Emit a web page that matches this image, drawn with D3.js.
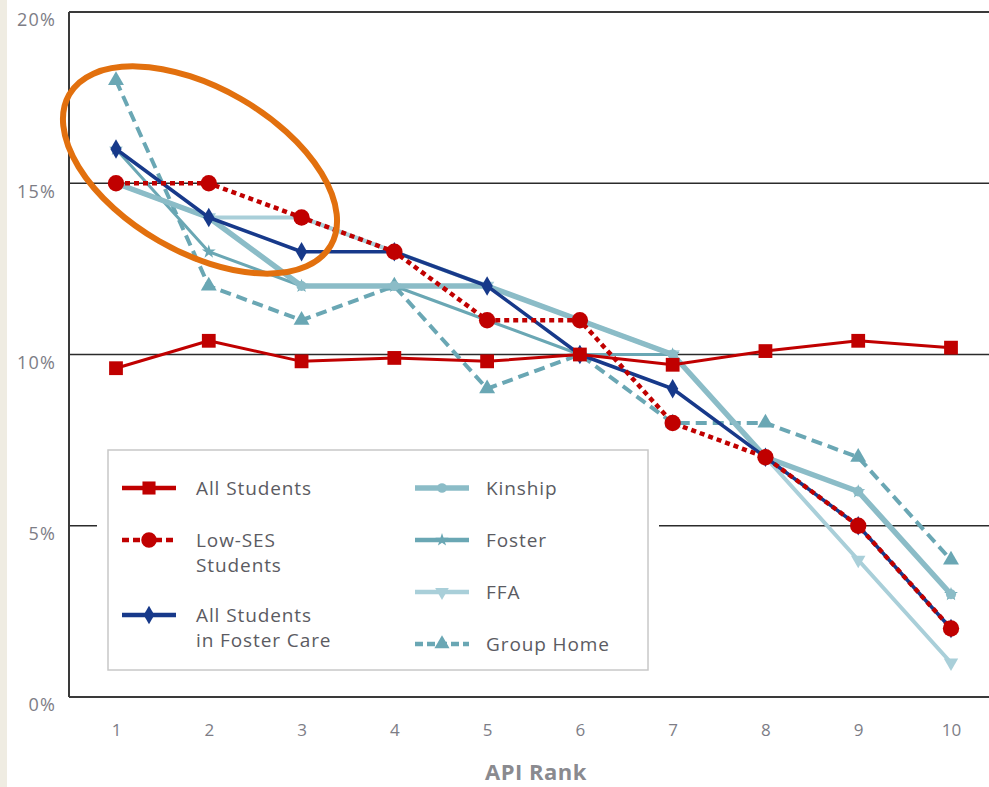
<!DOCTYPE html>
<html>
<head>
<meta charset="utf-8">
<script src="https://cdn.jsdelivr.net/npm/d3@7"></script>
<style>
  html, body { margin: 0; padding: 0; background: #ffffff; }
  svg { display: block; }
</style>
</head>
<body>
<svg id="chart" width="989" height="787"></svg>
<script>
// API rank deciles on the x axis
const ranks = [1, 2, 3, 4, 5, 6, 7, 8, 9, 10];
const yTicks = [0, 5, 10, 15, 20];

// Percent of students in each API rank decile
const allStudents     = [9.6, 10.4, 9.8, 9.9, 9.8, 10.0, 9.7, 10.1, 10.4, 10.2];
const lowSES          = [15, 15, 14, 13, 11, 11, 8, 7, 5, 2];
const allFosterCare   = [16, 14, 13, 13, 12, 10, 9, 7, 5, 2];
const kinship         = [15, 14, 12, 12, 12, 11, 10, 7, 6, 3];
const foster          = [16, 13, 12, 12, 11, 10, 10, 7, 6, 3];
const ffa             = [15, 14, 14, 13, 12, 11, 10, 7, 4, 1];
const groupHome       = [18, 12, 11, 12, 9, 10, 8, 8, 7, 4];

const seriesNames = ["All Students", "Low-SES\nStudents", "All Students\nin Foster Care",
                     "Kinship", "Foster", "FFA", "Group Home"];

const RED = "#c00000", NAVY = "#17398a", TEAL = "#6aa7b4", TEAL_MID = "#8bbcc7", TEAL_LIGHT = "#a9cfd9";

const series = [
  { name: seriesNames[6], values: groupHome, color: TEAL, width: 4, dash: "11,6", sym: d3.symbolTriangle, size: 110, rot: 0 },
  { name: seriesNames[5], values: ffa, color: TEAL_LIGHT, width: 4, dash: null, sym: d3.symbolTriangle, size: 90, rot: 180 },
  { name: seriesNames[4], values: foster, color: TEAL, width: 3, dash: null, sym: d3.symbolStar, size: 60, rot: 0 },
  { name: seriesNames[3], values: kinship, color: TEAL_MID, width: 5.5, dash: null, sym: d3.symbolCircle, size: 80, rot: 0 },
  { name: seriesNames[2], values: allFosterCare, color: NAVY, width: 3.5, dash: null, sym: d3.symbolDiamond, size: 110, rot: 0 },
  { name: seriesNames[0], values: allStudents, color: RED, width: 3, dash: null, sym: d3.symbolSquare, size: 190, rot: 0 },
  { name: seriesNames[1], values: lowSES, color: RED, width: 4.5, dash: "5,4", sym: d3.symbolCircle, size: 210, rot: 0 }
];

const svg = d3.select("#chart");
const FONT = "'Open Sans', 'Noto Sans', sans-serif";

// left page strip
svg.append("rect").attr("x", 0).attr("y", 0).attr("width", 7).attr("height", 787).attr("fill", "#efece2");

const x = d3.scaleLinear().domain([1, 10]).range([116, 951]);
const y = d3.scaleLinear().domain([0, 20]).range([697, 12]);
const plotLeft = 69, plotRight = 989;

// gridlines and frame
const grid = svg.append("g");
[5, 10, 15].forEach(v => {
  grid.append("line").attr("x1", plotLeft).attr("x2", plotRight)
    .attr("y1", y(v)).attr("y2", y(v)).attr("stroke", "#2b2b2b").attr("stroke-width", 1.5);
});
grid.append("line").attr("x1", plotLeft).attr("x2", plotRight)
  .attr("y1", y(20)).attr("y2", y(20)).attr("stroke", "#3a3a3a").attr("stroke-width", 2);
grid.append("line").attr("x1", plotLeft).attr("x2", plotRight)
  .attr("y1", y(0)).attr("y2", y(0)).attr("stroke", "#3a3a3a").attr("stroke-width", 2);
grid.append("line").attr("x1", plotLeft).attr("x2", plotLeft)
  .attr("y1", y(20)).attr("y2", y(0)).attr("stroke", "#3a3a3a").attr("stroke-width", 2);

// y axis labels
const yAxis = d3.axisLeft(y).tickValues(yTicks).tickFormat(d => d + "%").tickSize(0).tickPadding(0);
const yg = svg.append("g").attr("transform", "translate(56,8)").call(yAxis);
yg.select(".domain").remove();
yg.selectAll("text").attr("fill", "#7d7d86").attr("font-family", FONT).attr("font-size", 18)
  .attr("letter-spacing", 1.2);

// x axis labels
const xAxis = d3.axisBottom(x).tickValues(ranks).tickFormat(d3.format("d")).tickSize(0).tickPadding(0);
const xg = svg.append("g").attr("transform", "translate(0,724)").call(xAxis);
xg.select(".domain").remove();
xg.selectAll("text").attr("fill", "#7d7d86").attr("font-family", FONT).attr("font-size", 17);

svg.append("text").attr("x", 536).attr("y", 780).attr("text-anchor", "middle")
  .attr("font-family", FONT).attr("font-weight", 700).attr("font-size", 22)
  .attr("letter-spacing", 0.5).attr("fill", "#8a8a8f").text("API Rank");

// legend backdrop (interrupts the 5% gridline)
svg.append("rect").attr("x", 97).attr("y", 440).attr("width", 562).attr("height", 240).attr("fill", "#ffffff");
svg.append("rect").attr("x", 108).attr("y", 450).attr("width", 540).attr("height", 220)
  .attr("fill", "#ffffff").attr("stroke", "#c8c8c8").attr("stroke-width", 1.5);

// series lines
const line = d3.line().x((d, i) => x(ranks[i])).y(d => y(d));
const lines = svg.append("g");
series.forEach(s => {
  const g = lines.append("g");
  g.append("path").datum(s.values).attr("d", line)
    .attr("fill", "none").attr("stroke", s.color).attr("stroke-width", s.width)
    .attr("stroke-dasharray", s.dash).attr("stroke-linejoin", "round");
  g.selectAll("path.m").data(s.values).join("path").attr("class", "m")
    .attr("d", d3.symbol().type(s.sym).size(s.size))
    .attr("transform", (d, i) => `translate(${x(ranks[i])},${y(d)}) rotate(${s.rot})`)
    .attr("fill", s.color);
});

// legend entries
const legendItems = [
  { s: series[5], lx: 122, ly: 488, tx: 196, lines: ["All Students"] },
  { s: series[6], lx: 122, ly: 540, tx: 196, lines: ["Low-SES", "Students"] },
  { s: series[4], lx: 122, ly: 615, tx: 196, lines: ["All Students", "in Foster Care"] },
  { s: series[3], lx: 415, ly: 488, tx: 486, lines: ["Kinship"] },
  { s: series[2], lx: 415, ly: 540, tx: 486, lines: ["Foster"] },
  { s: series[1], lx: 415, ly: 592, tx: 486, lines: ["FFA"] },
  { s: series[0], lx: 415, ly: 644, tx: 486, lines: ["Group Home"] }
];
const lg = svg.append("g");
legendItems.forEach(it => {
  const s = it.s;
  lg.append("line").attr("x1", it.lx).attr("x2", it.lx + 54).attr("y1", it.ly).attr("y2", it.ly)
    .attr("stroke", s.color).attr("stroke-width", Math.max(s.width, 4.5))
    .attr("stroke-dasharray", s.dash ? (s.dash === "5,4" ? "7,4" : "8,4") : null);
  lg.append("path").attr("d", d3.symbol().type(s.sym).size(s.size * 0.9))
    .attr("transform", `translate(${it.lx + 27},${it.ly}) rotate(${s.rot})`).attr("fill", s.color);
  const t = lg.append("text").attr("x", it.tx).attr("y", it.ly + 7)
    .attr("font-family", FONT).attr("font-size", 19).attr("letter-spacing", 0.9).attr("fill", "#5b5b62");
  it.lines.forEach((l, k) => t.append("tspan").attr("x", it.tx).attr("dy", k === 0 ? 0 : 24.5).text(l));
});

// highlight ellipse around the lowest API ranks
svg.append("ellipse").attr("cx", 200).attr("cy", 170).attr("rx", 151).attr("ry", 82)
  .attr("transform", "rotate(30,200,170)")
  .attr("fill", "none").attr("stroke", "#e2700e").attr("stroke-width", 6);
</script>
</body>
</html>
